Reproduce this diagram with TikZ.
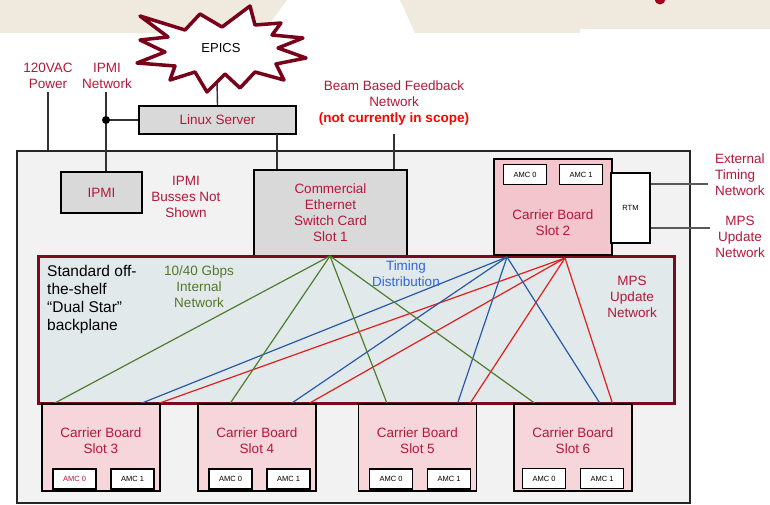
\documentclass[tikz,border=0pt]{standalone}
\usepackage{fontspec}
\setmainfont{Liberation Sans}
\definecolor{txtred}{RGB}{178,24,58}
\definecolor{brred}{RGB}{255,0,0}
\definecolor{grn}{RGB}{80,125,45}
\definecolor{grntxt}{RGB}{85,120,40}
\definecolor{blu}{RGB}{40,90,165}
\definecolor{blutxt}{RGB}{50,100,220}
\definecolor{lnred}{RGB}{225,30,30}
\definecolor{pinkA}{RGB}{243,198,206}
\definecolor{pinkB}{RGB}{246,214,219}
\definecolor{bpfill}{RGB}{226,233,235}
\definecolor{bpedge}{RGB}{122,10,30}
\definecolor{chfill}{RGB}{242,242,242}
\definecolor{gbox}{RGB}{217,217,217}
\definecolor{beige}{RGB}{240,233,222}
\definecolor{starred}{RGB}{120,0,25}
\definecolor{dotred}{RGB}{165,0,30}
\begin{document}
\begin{tikzpicture}[x=1pt,y=-1pt,
  lbl/.style={font=\fontsize{13.5}{16}\selectfont, text=txtred, align=center, inner sep=0},
  box/.style={draw=black, line width=1.6pt, inner sep=0},
  amcbox/.style={box, fill=white, minimum width=43pt, minimum height=20pt, font=\fontsize{7.5}{8}\selectfont},
  slotbox/.style={box, fill=pinkB, minimum width=118pt, minimum height=87pt},
  wire/.style={draw=black!80, line width=1.4pt},
  gline/.style={draw=grn, line width=1.2pt},
  bline/.style={draw=blu, line width=1.2pt},
  rline/.style={draw=lnred, line width=1.2pt}]
\useasboundingbox (0,0) rectangle (770,505);
% slide decoration
\fill[beige] (0,0) -- (287,0) -- (263,33) -- (0,33) -- cycle;
\fill[beige] (400,0) -- (770,0) -- (770,29) -- (580,29) -- (580,33) -- (415,33) -- cycle;
\fill[dotred] (660,-1) circle (5.5);
% chassis
\node[draw=black!85, line width=1.3pt, fill=chfill, minimum width=673pt, minimum height=352pt, inner sep=0] (chassis) at (353.5,327) {};
% external wires
\coordinate (pwr) at (48,92);
\coordinate (ipmitop) at (106,92);
\coordinate (ipmidot) at (106,120);
\coordinate (epicsend) at (217,82);
\coordinate (lsb) at (277,134);
\coordinate (beamtop) at (394,134);
\coordinate (ext1) at (708,184);
\coordinate (ext2) at (710,228);
\node[box, fill=gbox, minimum width=157pt, minimum height=28pt] (linux) at (217.5,120) {};
\node[box, fill=gbox, minimum width=81pt, minimum height=41pt] (ipmi) at (101.5,192.5) {};
\node[box, fill=gbox, minimum width=153pt, minimum height=86pt] (sw) at (330.5,213) {};
\draw[wire] (pwr) -- (pwr |- chassis.north);
\draw[wire] (ipmitop) -- (ipmitop |- ipmi.north);
\draw[wire] (ipmidot) -- (linux.west |- ipmidot);
\fill (ipmidot) circle (4);
\draw[wire] (linux.north) -- (epicsend);
\draw[wire] (lsb) -- (lsb |- sw.north);
\draw[wire] (beamtop) -- (beamtop |- sw.north);
% backplane
\node[draw=bpedge, line width=3pt, fill=bpfill, minimum width=636pt, minimum height=147pt, inner sep=0] (bp) at (356,329.5) {};
% slot 2 and RTM
\node[box, fill=pinkA, minimum width=118pt, minimum height=96pt] (s2) at (553,207) {};
\node[amcbox] (s2a0) at (525,174.5) {AMC 0};
\node[amcbox] (s2a1) at (581,174.5) {AMC 1};
\node[box, fill=white, minimum width=39pt, minimum height=70pt, font=\fontsize{7.5}{8}\selectfont] (rtm) at (630.5,208) {RTM};
\draw[draw=black!65, line width=1.3pt] (rtm.east |- ext1) -- (ext1);
\draw[draw=black!65, line width=1.3pt] (rtm.east |- ext2) -- (ext2);
% star networks
\coordinate (gh) at (330,256);
\coordinate (bh) at (507,257);
\coordinate (rh) at (565,258);
\coordinate (g3) at (53,404); \coordinate (g4) at (229,405); \coordinate (g5) at (388,406); \coordinate (g6) at (540,407);
\coordinate (b3) at (137,405); \coordinate (b4) at (289,405); \coordinate (b5) at (457,405); \coordinate (b6) at (601,405);
\coordinate (r3) at (157,404); \coordinate (r4) at (308,404); \coordinate (r5) at (469,405); \coordinate (r6) at (613,405);
\foreach \i in {3,4,5,6} {
  \draw[gline] (gh) -- (g\i);
  \draw[bline] (bh) -- (b\i);
  \draw[rline] (rh) -- (r\i);
}
% bottom slots
\node[slotbox] (s3) at (101,447.5) {};
\node[slotbox] (s4) at (257,447.5) {};
\node[slotbox] (s5) at (417.5,447.5) {};
\node[slotbox] (s6) at (573,447.5) {};
\node[amcbox, text=txtred] (s3a0) at (74.5,479) {AMC 0};
\node[amcbox] (s3a1) at (132.5,479) {AMC 1};
\node[amcbox] (s4a0) at (230.5,479) {AMC 0};
\node[amcbox] (s4a1) at (288.5,479) {AMC 1};
\node[amcbox] (s5a0) at (391,479) {AMC 0};
\node[amcbox] (s5a1) at (449,479) {AMC 1};
\node[amcbox] (s6a0) at (544,478.5) {AMC 0};
\node[amcbox] (s6a1) at (602,478.5) {AMC 1};
% EPICS star
\filldraw[draw=starred, fill=white, line width=3.5pt, line join=round]
  (140,16) -- (185,30) -- (200,14) -- (222,27) -- (250,6) -- (255,25) -- (281,23) -- (272,35)
  -- (303,38) -- (278,48) -- (306,58) -- (276,64) -- (284,80) -- (255,72) -- (240,88) -- (225,74)
  -- (207,92) -- (195,72) -- (170,80) -- (175,66) -- (137,63) -- (165,52) -- (140,40) -- (168,37) -- cycle;
\node[lbl, text=black, font=\fontsize{13}{15}\selectfont] (epics) at (221,48) {EPICS};
% labels
\node[lbl] (tpwr) at (48,75.5) {120VAC\\Power};
\node[lbl] (tipmin) at (107,75.5) {IPMI\\Network};
\node[lbl] (tbeam) at (394,103) {Beam Based Feedback\\Network\\{\bfseries\color{brred}(not currently in scope)}};
\node[lbl] at (linux) {Linux Server};
\node[lbl] at (ipmi) {IPMI};
\node[lbl] (tbus) at (186,196.5) {IPMI\\Busses Not\\Shown};
\node[lbl] at (330.5,213) {Commercial\\Ethernet\\Switch Card\\Slot 1};
\node[lbl] at (553,223) {Carrier Board\\Slot 2};
\node[lbl, align=left, anchor=west] (text1) at (715,175) {External\\Timing\\Network};
\node[lbl] (text2) at (740,237) {MPS\\Update\\Network};
\node[lbl, text=black, align=left, anchor=north west, font=\fontsize{15.5}{18}\selectfont] (tbp) at (47,265) {Standard off-\\the-shelf\\``Dual Star''\\backplane};
\node[lbl, text=grntxt] (tgrn) at (199,287) {10/40 Gbps\\Internal\\Network};
\node[lbl, text=blutxt] (tblu) at (406,273.5) {Timing\\Distribution};
\node[lbl] (tmps) at (632,297) {MPS\\Update\\Network};
\node[lbl] at (101,440.5) {Carrier Board\\Slot 3};
\node[lbl] at (257,440.5) {Carrier Board\\Slot 4};
\node[lbl] at (417.5,440.5) {Carrier Board\\Slot 5};
\node[lbl] at (573,440.5) {Carrier Board\\Slot 6};
\end{tikzpicture}
\end{document}
